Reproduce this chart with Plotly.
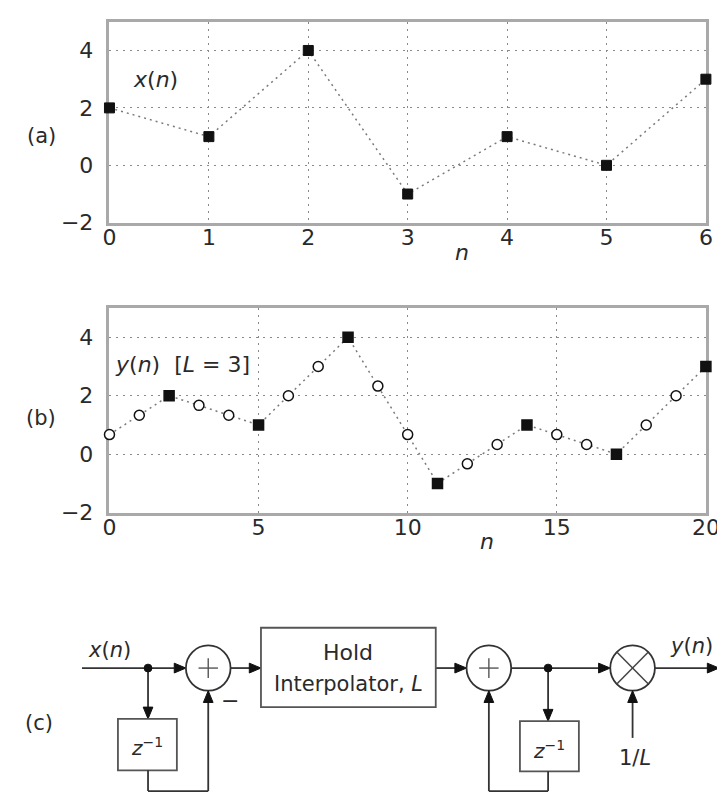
import plotly.graph_objects as go

# ---------------- data ----------------
n_a = [0, 1, 2, 3, 4, 5, 6]
x_a = [2, 1, 4, -1, 1, 0, 3]

n_b = list(range(21))
y_b = [0.67, 1.33, 2, 1.67, 1.33, 1, 2, 3, 4, 2.33, 0.67, -1,
       -0.33, 0.33, 1, 0.67, 0.33, 0, 1, 2, 3]
held_n = [2, 5, 8, 11, 14, 17, 20]

ticks_a_x = [0, 1, 2, 3, 4, 5, 6]
ticks_b_x = [0, 5, 10, 15, 20]
ticks_y = [-2, 0, 2, 4]
ticks_y_text = ["\u22122", "0", "2", "4"]

# ---------------- layout helpers ----------------
W, H = 725, 798
FONT = "DejaVu Sans"
TXT = "#2a2a2a"
LINE = "#333333"


def px(x):
    return x / W


def py(y):
    return 1 - y / H


fig = go.Figure()

# (a) x(n)
fig.add_trace(go.Scatter(
    x=n_a, y=x_a, mode="lines+markers", xaxis="x", yaxis="y",
    line=dict(color="#7a7a7a", width=1.5, dash="2px,4px"),
    marker=dict(symbol="square", size=10, color="#111111",
                line=dict(color="#111111", width=1)),
    cliponaxis=False, showlegend=False, hoverinfo="skip"))

# (b) y(n)
sym = ["square" if n in held_n else "circle" for n in n_b]
fill = ["#111111" if n in held_n else "white" for n in n_b]
fig.add_trace(go.Scatter(
    x=n_b, y=y_b, mode="lines+markers", xaxis="x2", yaxis="y2",
    line=dict(color="#7a7a7a", width=1.5, dash="2px,4px"),
    marker=dict(symbol=sym, size=10, color=fill,
                line=dict(color="#111111", width=1.5)),
    cliponaxis=False, showlegend=False, hoverinfo="skip"))

axis_common = dict(
    showline=True, mirror=True, linecolor="#a9a9a9", linewidth=2.5,
    showgrid=True, gridcolor="#8a8a8a", gridwidth=1.2, griddash="2px,5px",
    zeroline=False, ticks="", layer="below traces",
    tickfont=dict(family=FONT, size=22, color=TXT),
)

x_dom = [px(97.3), px(711.5)]
fig.update_layout(
    width=W, height=H,
    margin=dict(l=0, r=0, t=0, b=0),
    paper_bgcolor="white", plot_bgcolor="white",
    xaxis=dict(domain=x_dom, range=[0, 6], tickvals=ticks_a_x, anchor="y",
               ticklabelstandoff=-7, **axis_common),
    yaxis=dict(domain=[py(218.3), py(14)], range=[-2, 5], tickvals=ticks_y,
               ticktext=ticks_y_text, anchor="x", ticklabelstandoff=9,
               **axis_common),
    xaxis2=dict(domain=x_dom, range=[0, 20], tickvals=ticks_b_x, anchor="y2",
                ticklabelstandoff=-7, **axis_common),
    yaxis2=dict(domain=[py(513), py(305)], range=[-2, 5], tickvals=ticks_y,
                ticktext=ticks_y_text, anchor="x2", ticklabelstandoff=9,
                **axis_common),
)

annotations = []


def text(x, y, s, size=21, xanchor="center"):
    annotations.append(dict(
        x=px(x), y=py(y), xref="paper", yref="paper", text=s, showarrow=False,
        xanchor=xanchor, yanchor="middle",
        font=dict(family=FONT, size=size, color=TXT)))


# plot labels
text(27, 130, "(a)")
text(27, 417, "(b)")
text(25, 727, "(c)")
text(145, 73, "<i>x</i>(<i>n</i>)", size=22)
text(172, 362, "<i>y</i>(<i>n</i>)  [<i>L</i> = 3]", size=22)
text(460, 249, "<i>n</i>", size=22)
text(486, 542, "<i>n</i>", size=22)

# ---------------- block diagram ----------------
shapes = []


def seg(x0, y0, x1, y1, color=LINE, width=1.8):
    shapes.append(dict(type="line", xref="paper", yref="paper",
                       x0=px(x0), y0=py(y0), x1=px(x1), y1=py(y1),
                       line=dict(color=color, width=width)))


def head(tx, ty, direction, length=12, half=5):
    if direction == "right":
        pts = [(tx, ty), (tx - length, ty - half), (tx - length, ty + half)]
    elif direction == "down":
        pts = [(tx, ty), (tx - half, ty - length), (tx + half, ty - length)]
    else:  # up
        pts = [(tx, ty), (tx - half, ty + length), (tx + half, ty + length)]
    path = "M " + " L ".join(f"{px(a):.5f},{py(b):.5f}" for a, b in pts) + " Z"
    shapes.append(dict(type="path", xref="paper", yref="paper", path=path,
                       fillcolor="#111111", line=dict(color="#111111", width=1)))


def circle(cx, cy, r, color=LINE, width=1.8, fillc="rgba(0,0,0,0)"):
    shapes.append(dict(type="circle", xref="paper", yref="paper",
                       x0=px(cx - r), x1=px(cx + r), y0=py(cy + r), y1=py(cy - r),
                       line=dict(color=color, width=width), fillcolor=fillc))


def rect(x0, y0, x1, y1, color="#555555", width=1.8):
    shapes.append(dict(type="rect", xref="paper", yref="paper",
                       x0=px(x0), x1=px(x1), y0=py(y1), y1=py(y0),
                       line=dict(color=color, width=width)))


YL = 671
R = 23
S1X, S2X, MX = 199, 488, 636
J1X, J2X = 137, 549

# main path
seg(69, YL, 164, YL)
head(S1X - R, YL, "right")
seg(S1X + R, YL, 242, YL)
head(253.3, YL, "right")
seg(433.3, YL, 454, YL)
head(S2X - R, YL, "right")
seg(S2X + R, YL, 602, YL)
head(MX - R, YL, "right")
seg(MX + R, YL, 714, YL)
head(725, YL, "right")

# summers and multiplier
circle(S1X, YL, R)
seg(S1X - 10, YL, S1X + 10, YL, color="#555555", width=1.4)
seg(S1X, YL - 10, S1X, YL + 10, color="#555555", width=1.4)
circle(S2X, YL, R)
seg(S2X - 10, YL, S2X + 10, YL, color="#555555", width=1.4)
seg(S2X, YL - 10, S2X, YL + 10, color="#555555", width=1.4)
circle(MX, YL, R)
d = R * 0.7071
seg(MX - d, YL - d, MX + d, YL + d, color="#444444", width=1.5)
seg(MX - d, YL + d, MX + d, YL - d, color="#444444", width=1.5)

# hold interpolator box
rect(253.3, 630, 433.3, 710.7)
text(343, 655, "Hold", size=22)
text(343, 687, "Interpolator, <i>L</i>", size=21)

# first delay loop
seg(J1X, YL, J1X, 711)
head(J1X, 722.7, "down")
rect(106, 722.7, 166.7, 775)
text(136, 751, "<i>z</i><sup>\u22121</sup>", size=20)
seg(J1X, 775, J1X, 796)
seg(J1X, 796, S1X, 796)
seg(S1X, 796, S1X, YL + R + 11)
head(S1X, YL + R, "up")
text(221, 704, "\u2212", size=22)

# second delay loop
seg(J2X, YL, J2X, 713)
head(J2X, 725, "down")
rect(520, 725, 580.7, 776)
text(550, 754, "<i>z</i><sup>\u22121</sup>", size=20)
seg(J2X, 776, J2X, 796)
seg(J2X, 796, S2X, 796)
seg(S2X, 796, S2X, YL + R + 11)
head(S2X, YL + R, "up")

# 1/L input
seg(MX, 742, MX, YL + R + 11)
head(MX, YL + R, "up")
text(638, 762, "1/<i>L</i>", size=21)

# junction dots
circle(J1X, YL, 4, color="#111111", width=1, fillc="#111111")
circle(J2X, YL, 4, color="#111111", width=1, fillc="#111111")

# signal labels
text(97, 653, "<i>x</i>(<i>n</i>)", size=21)
text(697, 649, "<i>y</i>(<i>n</i>)", size=21)

fig.update_layout(shapes=shapes, annotations=annotations)
fig.write_html("out.html")
